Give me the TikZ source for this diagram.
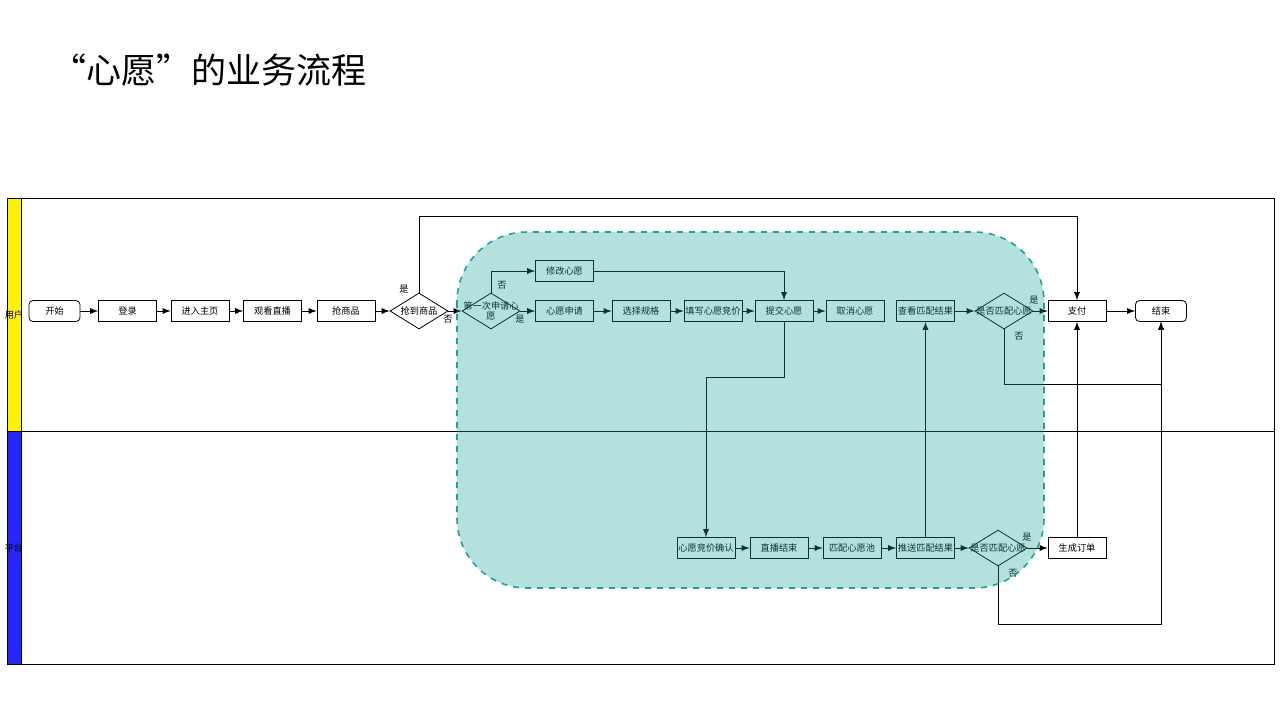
\documentclass[tikz,border=0pt]{standalone}
\usepackage{fontspec}
\setmainfont{Noto Sans CJK SC}
\usetikzlibrary{shapes.geometric}
\definecolor{poolteal}{HTML}{1BA39C}
\tikzset{
  box/.style={draw, rectangle, minimum width=29pt, minimum height=10.5pt, inner sep=0pt, font=\fontsize{4.6}{5}\selectfont},
  term/.style={box, rounded corners=2pt, minimum width=25.5pt},
  dec/.style={draw, diamond, minimum width=29pt, minimum height=18pt, inner sep=-3pt, aspect=1.6, font=\fontsize{4.6}{5}\selectfont, align=center},
  flow/.style={-latex, thin},
  lbl/.style={font=\fontsize{4.6}{5}\selectfont}
}
\begin{document}
\begin{tikzpicture}[x=0.5pt, y=-0.5pt]
  \useasboundingbox (0,0) rectangle (1280,720);
  \node[anchor=west, font=\fontsize{17.5}{19}\selectfont] (title) at (44,70) {“心愿”的业务流程};
  % lanes
  \fill[yellow] (7,198) rectangle (21,431);
  \fill[blue!85!white] (7,431) rectangle (21,664);
  \draw (7,198) rectangle (1274,664);
  \draw (21,198) -- (21,664);
  \draw (7,431) -- (1274,431);
  \node[lbl] (lane1) at (14,315) {用户};
  \node[lbl] (lane2) at (14,548) {平台};
  % user lane
  \node[term] (start) at (54.5,311) {开始};
  \node[box] (login) at (127.5,311) {登录};
  \node[box] (home) at (200,311) {进入主页};
  \node[box] (watch) at (272.5,311) {观看直播};
  \node[box] (grab) at (346,311) {抢商品};
  \node[dec] (got) at (419,311) {抢到商品};
  \node[dec] (first) at (491,311) {第一次申请心\\愿};
  \node[box] (modify) at (564.5,271) {修改心愿};
  \node[box] (apply) at (564.5,311) {心愿申请};
  \node[box] (spec) at (641,311) {选择规格};
  \node[box] (bid) at (713,311) {填写心愿竞价};
  \node[box] (submit) at (784,311) {提交心愿};
  \node[box] (cancel) at (855,311) {取消心愿};
  \node[box] (view) at (925.5,311) {查看匹配结果};
  \node[dec] (match1) at (1004,311) {是否匹配心愿};
  \node[box] (pay) at (1077,311) {支付};
  \node[term] (finish) at (1161,311) {结束};
  % platform lane
  \node[box] (confirm) at (706,548) {心愿竞价确认};
  \node[box] (liveend) at (779,548) {直播结束};
  \node[box] (pool) at (852,548) {匹配心愿池};
  \node[box] (push) at (925.5,548) {推送匹配结果};
  \node[dec] (match2) at (998,548) {是否匹配心愿};
  \node[box] (order) at (1077,548) {生成订单};
  % connectors
  \draw[flow] (start) -- (login);
  \draw[flow] (login) -- (home);
  \draw[flow] (home) -- (watch);
  \draw[flow] (watch) -- (grab);
  \draw[flow] (grab) -- (got);
  \draw[flow] (got.north) |- (419,216) -| (pay.north);
  \node[lbl] (yes1) at (404,289) {是};
  \draw[flow] (got) -- (first);
  \node[lbl] (no1) at (448,319) {否};
  \draw[flow] (first.north) |- (modify);
  \node[lbl] (no2) at (502,285) {否};
  \draw[flow] (first) -- (apply);
  \node[lbl] (yes2) at (520,319) {是};
  \draw[flow] (modify.east) -| (submit.north);
  \draw[flow] (apply) -- (spec);
  \draw[flow] (spec) -- (bid);
  \draw[flow] (bid) -- (submit);
  \draw[flow] (submit) -- (cancel);
  \draw[flow] (submit.south) |- (706,377) -- (confirm.north);
  \draw[flow] (view) -- (match1);
  \draw[flow] (match1) -- (pay);
  \node[lbl] (yes3) at (1034,300) {是};
  \draw[flow] (match1.south) |- (1161,384) -- (finish.south);
  \node[lbl] (no3) at (1019,336) {否};
  \draw[flow] (pay) -- (finish);
  \draw[flow] (confirm) -- (liveend);
  \draw[flow] (liveend) -- (pool);
  \draw[flow] (pool) -- (push);
  \draw[flow] (push) -- (view);
  \draw[flow] (push) -- (match2);
  \draw[flow] (match2) -- (order);
  \node[lbl] (yes4) at (1027,537) {是};
  \draw[flow] (match2.south) |- (1161,624) -- (finish.south);
  \node[lbl] (no4) at (1013,573) {否};
  \draw[flow] (order) -- (pay);
  % wish region
  \draw[poolteal, dashed, thick, fill=poolteal, fill opacity=0.33, rounded corners=35pt]
    (457,232) rectangle (1044,588);
\end{tikzpicture}
\end{document}
